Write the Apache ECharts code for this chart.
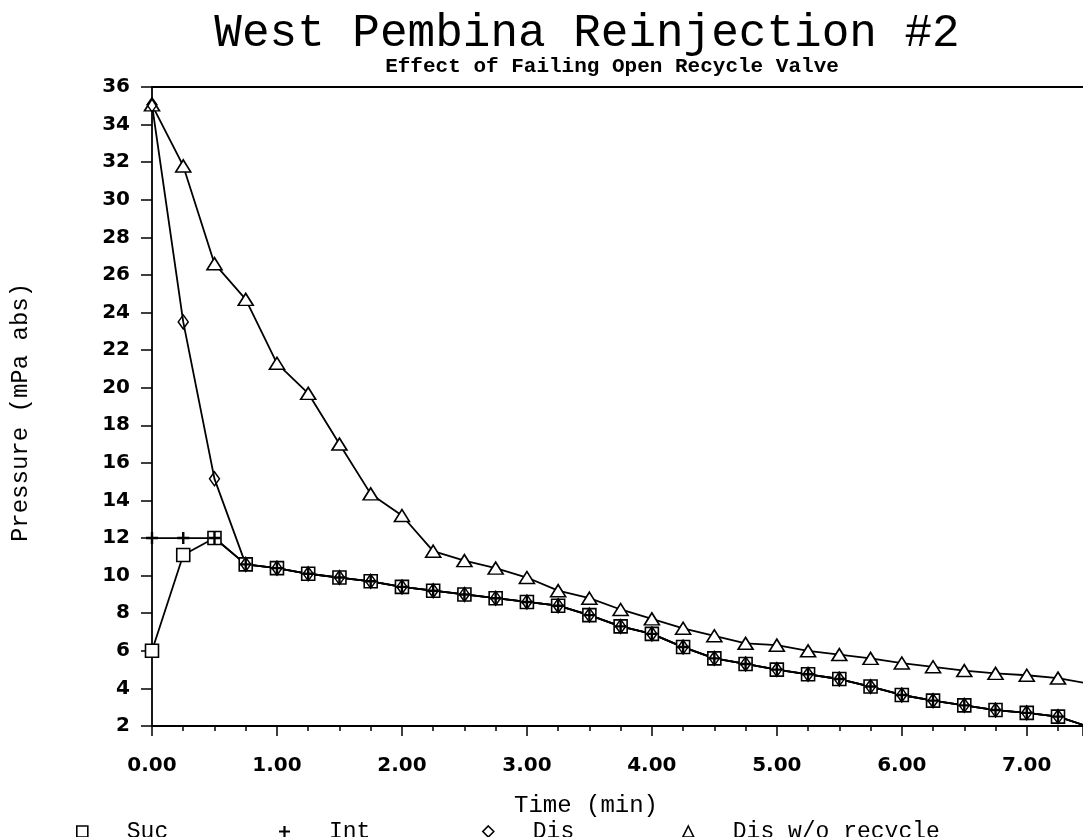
<!DOCTYPE html>
<html>
<head>
<meta charset="utf-8">
<title>West Pembina Reinjection #2</title>
<script src="https://cdn.jsdelivr.net/npm/echarts@6/dist/echarts.min.js"></script>
<style>
    html, body { margin: 0; padding: 0; background: #fff; }
    #main { width: 1083px; height: 837px; }
</style>
</head>
<body>
<div id="main"></div>
<script>
// time (min)
var times = [0, 0.25, 0.5, 0.75, 1, 1.25, 1.5, 1.75, 2, 2.25, 2.5, 2.75, 3, 3.25, 3.5, 3.75,
    4, 4.25, 4.5, 4.75, 5, 5.25, 5.5, 5.75, 6, 6.25, 6.5, 6.75, 7, 7.25, 7.5];
// pressure (mPa abs)
var suc = [6.0, 11.1, 12.0, 10.6, 10.4, 10.1, 9.9, 9.7, 9.4, 9.2, 9.0, 8.8, 8.6, 8.4, 7.9, 7.3,
    6.9, 6.2, 5.6, 5.3, 5.0, 4.75, 4.5, 4.1, 3.65, 3.35, 3.1, 2.85, 2.7, 2.5, 1.95];
var intP = [12.0, 12.0, 12.0, 10.6, 10.4, 10.1, 9.9, 9.7, 9.4, 9.2, 9.0, 8.8, 8.6, 8.4, 7.9, 7.3,
    6.9, 6.2, 5.6, 5.3, 5.0, 4.75, 4.5, 4.1, 3.65, 3.35, 3.1, 2.85, 2.7, 2.5, 1.95];
var dis = [35.05, 23.5, 15.15, 10.6, 10.4, 10.1, 9.9, 9.7, 9.4, 9.2, 9.0, 8.8, 8.6, 8.4, 7.9, 7.3,
    6.9, 6.2, 5.6, 5.3, 5.0, 4.75, 4.5, 4.1, 3.65, 3.35, 3.1, 2.85, 2.7, 2.5, 1.95];
var disNoRecycle = [35.05, 31.8, 26.6, 24.7, 21.3, 19.7, 17.0, 14.35, 13.2, 11.3, 10.8, 10.4, 9.9, 9.2, 8.8, 8.2,
    7.7, 7.2, 6.8, 6.4, 6.3, 6.0, 5.8, 5.6, 5.35, 5.15, 4.95, 4.8, 4.7, 4.55, 4.25];
var seriesNames = ["Suc", "Int", "Dis", "Dis w/o recycle"];

var plusPath = "path://M4,0H6V4H10V6H6V10H4V6H0V4H4Z";
var hollow = { color: "#fff", borderColor: "#000", borderWidth: 1.6 };

function pairs(values) {
    return times.map((t, i) => [t, values[i]]);
}

function makeSeries(name, values, symbol, size, itemStyle) {
    return {
        name: name,
        type: "line",
        data: pairs(values),
        symbol: symbol,
        symbolSize: size,
        showSymbol: true,
        clip: true,
        lineStyle: { color: "#000", width: 1.8 },
        itemStyle: itemStyle
    };
}

function makeLegend(name, icon, left, itemStyle) {
    return {
        data: [{ name: name, icon: icon, itemStyle: itemStyle }],
        left: left,
        top: 815,
        itemWidth: 11,
        itemHeight: 11,
        selectedMode: false,
        textStyle: {
            fontFamily: "Liberation Mono",
            fontSize: 23,
            color: "#000",
            padding: [0, 0, 0, 34]
        }
    };
}

var myChart = echarts.init(document.querySelector("#main"));
var tickFont = { fontFamily: "DejaVu Sans", fontWeight: "bold", fontSize: 20, color: "#000" };

var option = {
    animation: false,
    backgroundColor: "#fff",
    grid: {
        left: 152,
        right: 0,
        top: 87,
        bottom: 111,
        outerBoundsMode: "none"
    },
    graphic: [
        {
            type: "text", x: 587, y: 34,
            style: { text: "West Pembina Reinjection #2", fontFamily: "Liberation Mono", fontSize: 46,
                fill: "#000", align: "center", verticalAlign: "middle" }
        },
        {
            type: "text", x: 612, y: 67,
            style: { text: "Effect of Failing Open Recycle Valve", fontFamily: "Liberation Mono", fontSize: 21,
                fontWeight: "bold", fill: "#000", align: "center", verticalAlign: "middle" }
        },
        {
            type: "text", x: 586, y: 806,
            style: { text: "Time (min)", fontFamily: "Liberation Mono", fontSize: 24,
                fill: "#000", align: "center", verticalAlign: "middle" }
        }
    ],
    legend: [
        makeLegend(seriesNames[0], "rect", 71, hollow),
        makeLegend(seriesNames[1], plusPath, 274, { color: "#000" }),
        makeLegend(seriesNames[2], "diamond", 477, hollow),
        makeLegend(seriesNames[3], "triangle", 677, hollow)
    ],
    xAxis: [
        {
            type: "value",
            min: 0,
            max: 7.45,
            interval: 1,
            axisLine: { show: true, lineStyle: { color: "#000", width: 1.8 } },
            axisTick: { show: true, length: 10, lineStyle: { color: "#000", width: 1.5 } },
            minorTick: { show: true, splitNumber: 4, length: 5, lineStyle: { color: "#000", width: 1.5 } },
            splitLine: { show: false },
            axisLabel: Object.assign({
                margin: 30,
                showMaxLabel: false,
                formatter: v => v.toFixed(2)
            }, tickFont)
        },
        {
            type: "value",
            position: "top",
            min: 0,
            max: 7.45,
            axisLine: { show: true, onZero: false, lineStyle: { color: "#000", width: 1.8 } },
            axisTick: { show: false },
            axisLabel: { show: false },
            splitLine: { show: false }
        }
    ],
    yAxis: {
        type: "value",
        min: 2,
        max: 36,
        interval: 2,
        name: "Pressure (mPa abs)",
        nameLocation: "middle",
        nameGap: 119,
        nameTextStyle: { fontFamily: "Liberation Mono", fontSize: 24, color: "#000", padding: [0, 12, 0, 0] },
        axisLine: { show: true, lineStyle: { color: "#000", width: 1.8 } },
        axisTick: { show: true, length: 11, lineStyle: { color: "#000", width: 1.5 } },
        splitLine: { show: false },
        axisLabel: Object.assign({ margin: 22 }, tickFont)
    },
    series: [
        makeSeries(seriesNames[3], disNoRecycle, "triangle", [15, 12], hollow),
        makeSeries(seriesNames[0], suc, "rect", 13, hollow),
        makeSeries(seriesNames[1], intP, plusPath, 12, { color: "#000" }),
        makeSeries(seriesNames[2], dis, "diamond", [10, 14], { color: "transparent", borderColor: "#000", borderWidth: 1.5 })
    ]
};

myChart.setOption(option);
</script>
</body>
</html>
